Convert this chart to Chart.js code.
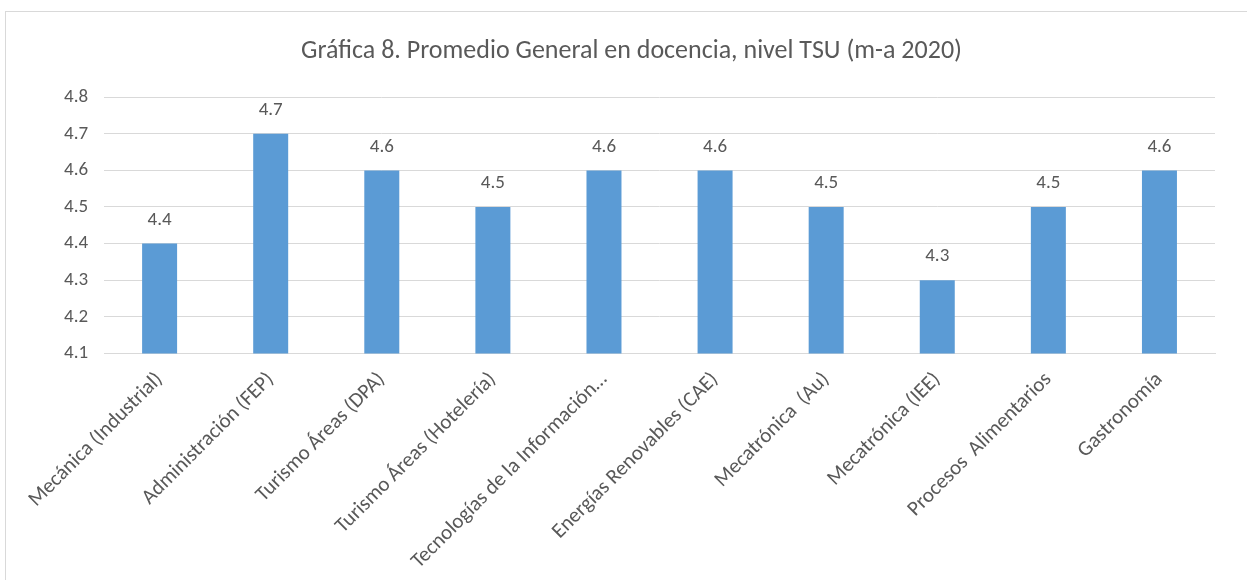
<!DOCTYPE html>
<html>
<head>
<meta charset="utf-8">
<script src="https://cdn.jsdelivr.net/npm/chart.js@4"></script>
<style>
  body { margin: 0; background: #fff; }
  #box { position: absolute; left: 5px; top: 11px; width: 1260px; height: 580px; border: 1px solid #d9d9d9; box-sizing: border-box; }
  #wrap { position: absolute; left: 0; top: 0; width: 1242px; height: 569px; }
</style>
</head>
<body>
<div id="box"><div id="wrap"><canvas id="chart"></canvas></div></div>
<script>
// datos de la grafica
const categorias = ['Mecánica (Industrial)', 'Administración (FEP)', 'Turismo Áreas (DPA)', 'Turismo Áreas (Hotelería)',
  'Tecnologías de la Información…', 'Energías Renovables (CAE)', 'Mecatrónica  (Au)', 'Mecatrónica (IEE)',
  'Procesos  Alimentarios', 'Gastronomía']
const promedios = [4.4, 4.7, 4.6, 4.5, 4.6, 4.6, 4.5, 4.3, 4.5, 4.6]
const titulo = 'Gráfica 8. Promedio General en docencia, nivel TSU (m-a 2020)'
const fuente = "Carlito, Calibri, Lato, sans-serif"
const gris = '#595959'

// etiquetas encima de las barras
const etiquetas = {
  id: 'etiquetas',
  afterDatasetsDraw(chart) {
    let ctx = chart.ctx
    ctx.save()
    ctx.font = '19px ' + fuente
    ctx.fillStyle = gris
    ctx.textAlign = 'center'
    ctx.textBaseline = 'bottom'
    chart.getDatasetMeta(0).data.forEach((bar, i) => {
      ctx.fillText(promedios[i].toFixed(1), bar.x, bar.y - 14)
    })
    ctx.restore()
  }
}

new Chart(document.getElementById('chart'), {
  type: 'bar',
  data: {
    labels: categorias,
    datasets: [{
      data: promedios,
      backgroundColor: '#5b9bd5',
      barPercentage: 0.315,
      categoryPercentage: 1
    }]
  },
  options: {
    responsive: true,
    maintainAspectRatio: false,
    animation: false,
    layout: { padding: { left: 42, right: 33, top: 10, bottom: 1 } },
    plugins: {
      legend: { display: false },
      tooltip: { enabled: false },
      title: {
        display: true,
        text: titulo,
        color: gris,
        font: { family: fuente, size: 26, weight: 'normal' },
        padding: { top: 14, bottom: 30 }
      }
    },
    scales: {
      y: {
        min: 4.1,
        max: 4.8,
        ticks: { stepSize: 0.1, color: gris, font: { family: fuente, size: 19 }, padding: 16,
          callback: v => v.toFixed(1) },
        grid: { color: '#d9d9d9', drawTicks: false },
        border: { display: false }
      },
      x: {
        ticks: { color: gris, font: { family: fuente, size: 21 }, minRotation: 45, maxRotation: 45, autoSkip: false, padding: 6 },
        grid: { display: false },
        border: { color: '#d9d9d9' }
      }
    }
  },
  plugins: [etiquetas]
})
</script>
</body>
</html>
